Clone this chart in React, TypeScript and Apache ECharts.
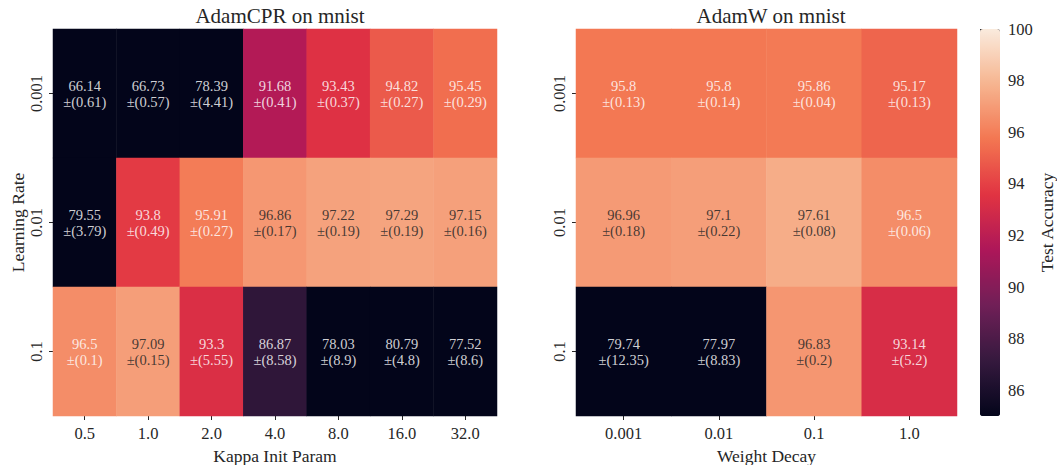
import React, { useEffect, useRef } from "react";
import * as echarts from "echarts";

// Learning rates (rows, top to bottom)
const learningRates = ["0.001", "0.01", "0.1"];
// AdamCPR: kappa init params (columns)
const kappaParams = ["0.5", "1.0", "2.0", "4.0", "8.0", "16.0", "32.0"];
// AdamW: weight decays (columns)
const weightDecays = ["0.001", "0.01", "0.1", "1.0"];

// AdamCPR mean test accuracy and std, one row per learning rate
const cprMean = [
  [66.14, 66.73, 78.39, 91.68, 93.43, 94.82, 95.45],
  [79.55, 93.8, 95.91, 96.86, 97.22, 97.29, 97.15],
  [96.5, 97.09, 93.3, 86.87, 78.03, 80.79, 77.52],
];
const cprStd = [
  [0.61, 0.57, 4.41, 0.41, 0.37, 0.27, 0.29],
  [3.79, 0.49, 0.27, 0.17, 0.19, 0.19, 0.16],
  [0.1, 0.15, 5.55, 8.58, 8.9, 4.8, 8.6],
];

// AdamW mean test accuracy and std, one row per learning rate
const adamwMean = [
  [95.8, 95.8, 95.86, 95.17],
  [96.96, 97.1, 97.61, 96.5],
  [79.74, 77.97, 96.83, 93.14],
];
const adamwStd = [
  [0.13, 0.14, 0.04, 0.13],
  [0.18, 0.22, 0.08, 0.06],
  [12.35, 8.83, 0.2, 5.2],
];

// Colour scale limits and colorbar ticks
const colorMin = 85;
const colorMax = 100;
const colorbarTicks = [86, 88, 90, 92, 94, 96, 98, 100];

// "rocket" colormap stops
const rocket = ["#03051a", "#35193e", "#701f57", "#ad1759", "#e13342", "#f37651", "#f6b48f", "#faebdd"];

const FONT = "'Liberation Serif', 'DejaVu Serif', serif";
const TEXT = "#262626";

function buildCells(mean: number[][], std: number[][]) {
  const out: any[] = [];
  mean.forEach((row, r) => {
    row.forEach((v, c) => {
      out.push({
        value: [c, r, v, std[r][c]],
        label: {
          color: v >= 96.6 ? "rgba(38,38,38,0.85)" : "rgba(255,255,255,0.82)",
        },
      });
    });
  });
  return out;
}

export default function App() {
  const ref = useRef<HTMLDivElement>(null);

  useEffect(() => {
    if (!ref.current) return;
    const chart = echarts.init(ref.current, undefined, { renderer: "svg" });

    const catAxisCommon = {
      type: "category" as const,
      axisLine: { show: false },
      axisTick: { show: true, alignWithLabel: true, length: 4, lineStyle: { color: TEXT, width: 1 } },
      splitLine: { show: false },
      splitArea: { show: false },
    };

    const labelCfg = {
      show: true,
      fontFamily: FONT,
      fontSize: 14.5,
      lineHeight: 16,
      formatter: (p: any) => `${p.value[2]}\n±(${p.value[3]})`,
    };

    const tickFont = { fontFamily: FONT, fontSize: 16.5, color: TEXT };
    const nameFont = { fontFamily: FONT, fontSize: 17.5, color: TEXT };

    chart.setOption({
      animation: false,
      backgroundColor: "#ffffff",
      textStyle: { fontFamily: FONT, color: TEXT },
      title: [
        {
          text: "AdamCPR on mnist",
          left: 275,
          top: 0,
          textAlign: "center",
          textStyle: { fontFamily: FONT, fontSize: 21, fontWeight: "normal", color: TEXT },
        },
        {
          text: "AdamW on mnist",
          left: 766,
          top: 0,
          textAlign: "center",
          textStyle: { fontFamily: FONT, fontSize: 21, fontWeight: "normal", color: TEXT },
        },
      ],
      grid: [
        { left: 53, top: 29, width: 444, height: 387, outerBoundsMode: "none" },
        { left: 576, top: 29, width: 381, height: 387, outerBoundsMode: "none" },
        { left: 980, top: 29, width: 20, height: 387, outerBoundsMode: "none" },
      ],
      xAxis: [
        {
          ...catAxisCommon,
          gridIndex: 0,
          data: kappaParams,
          name: "Kappa Init Param",
          nameLocation: "middle",
          nameGap: 26,
          nameTextStyle: nameFont,
          axisLabel: { ...tickFont, margin: 9 },
        },
        {
          ...catAxisCommon,
          gridIndex: 1,
          data: weightDecays,
          name: "Weight Decay",
          nameLocation: "middle",
          nameGap: 26,
          nameTextStyle: nameFont,
          axisLabel: { ...tickFont, margin: 9 },
        },
        { type: "value", gridIndex: 2, show: false, min: 0, max: 1 },
      ],
      yAxis: [
        {
          ...catAxisCommon,
          gridIndex: 0,
          data: learningRates,
          inverse: true,
          name: "Learning Rate",
          nameLocation: "middle",
          nameRotate: 90,
          nameGap: 25,
          nameTextStyle: nameFont,
          axisLabel: { ...tickFont, rotate: 90, margin: 8 },
        },
        {
          ...catAxisCommon,
          gridIndex: 1,
          data: learningRates,
          inverse: true,
          axisLabel: { ...tickFont, rotate: 90, margin: 8 },
        },
        {
          type: "value",
          gridIndex: 2,
          position: "right",
          min: colorMin,
          max: colorMax,
          axisLine: { show: false },
          splitLine: { show: false },
          axisTick: { show: true, length: 4, customValues: colorbarTicks, lineStyle: { color: TEXT } },
          axisLabel: { ...tickFont, margin: 8, customValues: colorbarTicks },
          name: "Test Accuracy",
          nameLocation: "middle",
          nameRotate: 90,
          nameGap: 38,
          nameTextStyle: nameFont,
        },
      ],
      visualMap: {
        type: "continuous",
        seriesIndex: [0, 1],
        dimension: 2,
        min: colorMin,
        max: colorMax,
        calculable: false,
        hoverLink: false,
        realtime: false,
        orient: "vertical",
        left: 980,
        top: 29,
        itemWidth: 20,
        itemHeight: 387,
        padding: 0,
        text: null,
        showLabel: false,
        inRange: { color: rocket },
        outOfRange: { color: rocket[0] },
      },
      series: [
        {
          type: "heatmap",
          xAxisIndex: 0,
          yAxisIndex: 0,
          data: buildCells(cprMean, cprStd),
          label: labelCfg,
          itemStyle: { borderWidth: 0 },
          emphasis: { disabled: true },
        },
        {
          type: "heatmap",
          xAxisIndex: 1,
          yAxisIndex: 1,
          data: buildCells(adamwMean, adamwStd),
          label: labelCfg,
          itemStyle: { borderWidth: 0 },
          emphasis: { disabled: true },
        },
        {
          type: "scatter",
          xAxisIndex: 2,
          yAxisIndex: 2,
          data: [],
          silent: true,
        },
      ],
    });

    return () => chart.dispose();
  }, []);

  return (
    <div
      ref={ref}
      style={{ position: "fixed", left: 0, top: 0, width: 1057, height: 465, background: "#fff" }}
    />
  );
}
